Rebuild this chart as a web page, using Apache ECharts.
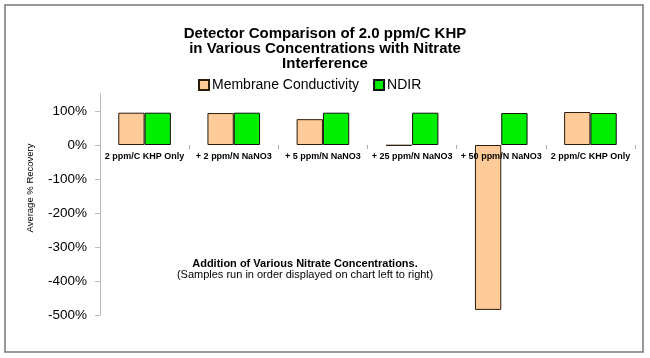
<!DOCTYPE html>
<html><head><meta charset="utf-8">
<script src="https://cdn.jsdelivr.net/npm/echarts@6/dist/echarts.min.js"></script>
<style>html,body{margin:0;padding:0;background:#fff}#c{width:650px;height:358px}</style>
</head><body><div id="c"></div>
<script>
const categories = ['2 ppm/C KHP Only', '+ 2 ppm/N NaNO3', '+ 5 ppm/N NaNO3', '+ 25 ppm/N NaNO3', '+ 50 ppm/N NaNO3', '2 ppm/C KHP Only'];
const membrane = [95, 94, 76, -2, -485, 97];
const ndir = [95, 95, 95, 95, 94, 94];
const yTicks = [-500, -400, -300, -200, -100, 0, 100];
const seriesNames = ['Membrane Conductivity', 'NDIR'];
const yMin = -500, yMax = 150;

const FF = '"Liberation Sans", Arial, sans-serif';
const gridTop = 94, gridBottom = 43, H = 358;
// shift the category axis up from the grid bottom to the zero line
const zeroOffset = -(H - gridTop - gridBottom) * (0 - yMin) / (yMax - yMin);
const chart = echarts.init(document.getElementById('c'), null, {renderer: 'canvas'});
chart.setOption({
  animation: false,
  backgroundColor: '#fff',
  textStyle: {fontFamily: FF},
  title: {
    text: 'Detector Comparison of 2.0 ppm/C KHP\nin Various Concentrations with Nitrate\nInterference',
    left: 'center', top: 21,
    textStyle: {fontFamily: FF, fontSize: 15, fontWeight: 'bold', color: '#000', lineHeight: 15}
  },
  legend: {
    data: seriesNames, top: 73, left: 193,
    itemWidth: 10, itemHeight: 10, itemGap: 14,
    textStyle: {fontFamily: FF, fontSize: 14, color: '#000', padding: [0,0,0,-2]},
    icon: 'rect'
  },
  grid: {left: 100, right: 15, top: gridTop, bottom: gridBottom},
  xAxis: {
    type: 'category', data: categories, position: 'bottom', offset: zeroOffset, z: 5,
    axisLine: {show: false, onZero: false},
    axisTick: {show: true, length: 4, lineStyle: {color: '#aaa'}},
    axisLabel: {interval: 0, fontSize: 9, fontWeight: 'bold', color: '#000', margin: 7, fontFamily: FF}
  },
  yAxis: {
    type: 'value', min: yMin, max: yMax, interval: 100,
    splitLine: {show: false},
    axisLine: {show: true, lineStyle: {color: '#bbb'}},
    axisTick: {show: true, length: 5, lineStyle: {color: '#bbb'}},
    axisLabel: {fontSize: 13.5, color: '#000', margin: 13, fontFamily: FF, showMaxLabel: false,
      formatter: v => yTicks.includes(v) ? v + '%' : ''}
  },
  series: [
    {name: seriesNames[0], type: 'bar', data: membrane, barGap: '0%', barCategoryGap: '41%',
     itemStyle: {color: '#FFCC99', borderColor: '#2a1a0a', borderWidth: 1}},
    {name: seriesNames[1], type: 'bar', data: ndir,
     itemStyle: {color: '#00EE00', borderColor: '#111', borderWidth: 1}}
  ],
  graphic: [
    {type: 'rect', shape: {x: 5, y: 5, width: 638, height: 347},
     style: {fill: 'none', stroke: '#777', lineWidth: 1.5}, silent: true},
    {type: 'text', x: 30, y: 188, rotation: Math.PI/2,
     style: {text: 'Average % Recovery', font: '9.5px ' + FF, fill: '#000', textAlign: 'center', textVerticalAlign: 'middle'}},
    {type: 'text', x: 305, y: 264,
     style: {text: 'Addition of Various Nitrate Concentrations.', font: 'bold 11px ' + FF, fill: '#000', textAlign: 'center', textVerticalAlign: 'middle'}},
    {type: 'text', x: 305, y: 275,
     style: {text: '(Samples run in order displayed on chart left to right)', font: '11px ' + FF, fill: '#000', textAlign: 'center', textVerticalAlign: 'middle'}}
  ]
});
</script></body></html>
